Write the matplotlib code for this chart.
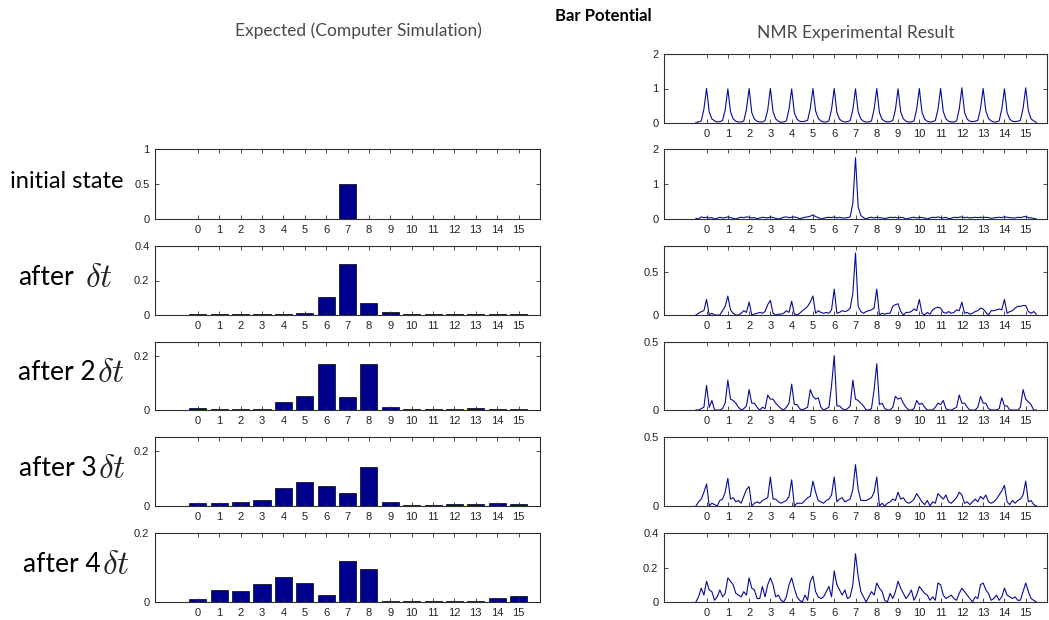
import numpy as np
import matplotlib
matplotlib.use("Agg")
import matplotlib.pyplot as plt
from matplotlib.ticker import FormatStrFormatter

plt.rcParams["mathtext.fontset"] = "cm"

# ---- data ----
sites = list(range(16))

# expected probabilities (computer simulation)
sim_init = [0, 0, 0, 0, 0, 0, 0, 0.5, 0, 0, 0, 0, 0, 0, 0, 0]
sim_dt1 = [0.005, 0.005, 0.005, 0.005, 0.005, 0.012, 0.103, 0.298, 0.072, 0.016,
           0.005, 0.005, 0.005, 0.005, 0.005, 0.005]
sim_dt2 = [0.007, 0.004, 0.004, 0.004, 0.030, 0.053, 0.169, 0.046, 0.169, 0.011,
           0.004, 0.004, 0.004, 0.006, 0.004, 0.004]
sim_dt3 = [0.012, 0.012, 0.016, 0.021, 0.067, 0.087, 0.071, 0.047, 0.143, 0.015,
           0.003, 0.003, 0.006, 0.006, 0.010, 0.007]
sim_dt4 = [0.009, 0.034, 0.031, 0.052, 0.072, 0.054, 0.020, 0.120, 0.095, 0.003,
           0.003, 0.003, 0.003, 0.003, 0.012, 0.017]

# NMR spectra, sampled every 1/8 unit from -0.5 to 15.5 (8 samples per site + end)
freq = np.arange(129) * 0.125 - 0.5

nmr_ref = [
    0.02, 0.03, 0.06, 0.40, 1.00, 0.32, 0.12, 0.06,
    0.03, 0.04, 0.07, 0.38, 0.99, 0.33, 0.12, 0.05,
    0.03, 0.03, 0.06, 0.40, 1.00, 0.30, 0.11, 0.05,
    0.03, 0.03, 0.07, 0.38, 1.00, 0.33, 0.12, 0.05,
    0.02, 0.03, 0.06, 0.40, 0.99, 0.30, 0.11, 0.05,
    0.04, 0.05, 0.08, 0.42, 1.00, 0.35, 0.13, 0.06,
    0.03, 0.03, 0.06, 0.40, 1.00, 0.31, 0.11, 0.05,
    0.03, 0.04, 0.07, 0.39, 0.99, 0.32, 0.12, 0.05,
    0.03, 0.03, 0.06, 0.40, 1.00, 0.30, 0.11, 0.05,
    0.03, 0.04, 0.07, 0.38, 0.99, 0.32, 0.12, 0.05,
    0.03, 0.03, 0.06, 0.40, 1.00, 0.31, 0.11, 0.05,
    0.03, 0.04, 0.07, 0.39, 1.00, 0.33, 0.12, 0.05,
    0.03, 0.03, 0.06, 0.40, 1.02, 0.31, 0.11, 0.05,
    0.04, 0.05, 0.08, 0.42, 1.00, 0.35, 0.13, 0.06,
    0.03, 0.03, 0.06, 0.40, 0.99, 0.30, 0.11, 0.05,
    0.04, 0.05, 0.08, 0.42, 1.02, 0.35, 0.12, 0.06,
    0.02,
]

nmr_init = [
    0.02, 0.00, 0.06, 0.04, 0.05, 0.03, 0.04, 0.00,
    0.02, 0.05, 0.03, 0.04, 0.06, 0.04, 0.02, 0.00,
    0.03, 0.05, 0.04, 0.06, 0.05, 0.03, 0.04, 0.01,
    0.03, 0.05, 0.04, 0.03, 0.06, 0.04, 0.02, 0.00,
    0.02, 0.05, 0.06, 0.04, 0.05, 0.06, 0.04, 0.01,
    0.03, 0.05, 0.06, 0.08, 0.12, 0.07, 0.04, 0.00,
    0.02, 0.04, 0.05, 0.04, 0.06, 0.03, 0.05, 0.03,
    0.03, 0.04, 0.06, 0.45, 1.75, 0.35, 0.10, 0.04,
    0.00, 0.04, 0.05, 0.03, 0.05, 0.04, 0.03, 0.01,
    0.03, 0.05, 0.04, 0.05, 0.03, 0.05, 0.04, 0.00,
    0.02, 0.04, 0.05, 0.03, 0.05, 0.04, 0.03, 0.00,
    0.03, 0.05, 0.04, 0.06, 0.04, 0.03, 0.05, 0.01,
    0.02, 0.05, 0.04, 0.05, 0.06, 0.04, 0.05, 0.03,
    0.04, 0.05, 0.04, 0.05, 0.04, 0.05, 0.04, 0.02,
    0.03, 0.04, 0.05, 0.04, 0.06, 0.05, 0.04, 0.03,
    0.03, 0.05, 0.04, 0.06, 0.07, 0.04, 0.03, 0.02,
    0.00,
]

nmr_dt1 = [
    0.00, 0.02, 0.04, 0.05, 0.18, 0.00, 0.02, 0.00,
    0.00, 0.00, 0.05, 0.10, 0.22, 0.06, 0.02, 0.00,
    0.00, 0.02, 0.05, 0.03, 0.15, 0.00, 0.01, 0.02,
    0.03, 0.02, 0.04, 0.12, 0.17, 0.02, 0.00, 0.01,
    0.01, 0.02, 0.05, 0.03, 0.16, 0.01, 0.00, 0.02,
    0.05, 0.07, 0.10, 0.15, 0.22, 0.02, 0.05, 0.03,
    0.02, 0.03, 0.02, 0.06, 0.30, 0.02, 0.03, 0.05,
    0.04, 0.05, 0.08, 0.25, 0.72, 0.10, 0.04, 0.02,
    0.04, 0.05, 0.06, 0.08, 0.30, 0.00, 0.02, 0.01,
    0.02, 0.02, 0.10, 0.12, 0.13, 0.04, 0.00, 0.03,
    0.03, 0.04, 0.07, 0.05, 0.18, 0.02, 0.00, 0.03,
    0.01, 0.06, 0.08, 0.09, 0.08, 0.03, 0.02, 0.04,
    0.02, 0.03, 0.06, 0.05, 0.15, 0.02, 0.03, 0.01,
    0.02, 0.04, 0.05, 0.08, 0.07, 0.03, 0.00, 0.05,
    0.05, 0.06, 0.07, 0.06, 0.18, 0.02, 0.04, 0.05,
    0.08, 0.10, 0.10, 0.11, 0.11, 0.04, 0.02, 0.04,
    0.01,
]

nmr_dt2 = [
    0.00, 0.00, 0.01, 0.02, 0.18, 0.02, 0.07, 0.00,
    0.00, 0.00, 0.01, 0.05, 0.22, 0.08, 0.07, 0.05,
    0.02, 0.00, 0.01, 0.03, 0.15, 0.05, 0.05, 0.02,
    0.00, 0.02, 0.01, 0.11, 0.08, 0.08, 0.05, 0.03,
    0.01, 0.00, 0.02, 0.05, 0.19, 0.04, 0.04, 0.01,
    0.00, 0.01, 0.02, 0.15, 0.10, 0.08, 0.09, 0.02,
    0.00, 0.01, 0.02, 0.18, 0.40, 0.03, 0.03, 0.01,
    0.00, 0.01, 0.03, 0.22, 0.08, 0.07, 0.05, 0.03,
    0.00, 0.00, 0.01, 0.15, 0.34, 0.04, 0.05, 0.01,
    0.00, 0.00, 0.02, 0.10, 0.08, 0.09, 0.05, 0.02,
    0.00, 0.00, 0.01, 0.07, 0.04, 0.05, 0.02, 0.00,
    0.00, 0.00, 0.02, 0.05, 0.04, 0.07, 0.01, 0.00,
    0.00, 0.01, 0.02, 0.11, 0.05, 0.05, 0.02, 0.00,
    0.00, 0.00, 0.02, 0.10, 0.05, 0.05, 0.01, 0.00,
    0.00, 0.00, 0.01, 0.09, 0.03, 0.03, 0.00, 0.00,
    0.00, 0.00, 0.02, 0.15, 0.08, 0.06, 0.04, 0.00,
    0.00,
]

nmr_dt3 = [
    0.00, 0.03, 0.05, 0.10, 0.16, 0.00, 0.02, 0.01,
    0.00, 0.04, 0.05, 0.10, 0.20, 0.05, 0.06, 0.03,
    0.04, 0.02, 0.07, 0.12, 0.14, 0.00, 0.02, 0.03,
    0.02, 0.04, 0.05, 0.06, 0.21, 0.05, 0.05, 0.03,
    0.02, 0.03, 0.04, 0.07, 0.19, 0.00, 0.02, 0.02,
    0.02, 0.04, 0.06, 0.07, 0.18, 0.10, 0.04, 0.03,
    0.02, 0.04, 0.05, 0.08, 0.21, 0.03, 0.05, 0.06,
    0.03, 0.04, 0.05, 0.12, 0.30, 0.12, 0.04, 0.04,
    0.04, 0.05, 0.06, 0.10, 0.21, 0.00, 0.02, 0.00,
    0.02, 0.03, 0.05, 0.04, 0.10, 0.05, 0.06, 0.03,
    0.02, 0.03, 0.05, 0.09, 0.06, 0.03, 0.01, 0.04,
    0.00, 0.03, 0.02, 0.09, 0.07, 0.05, 0.08, 0.03,
    0.02, 0.04, 0.06, 0.10, 0.08, 0.02, 0.03, 0.01,
    0.03, 0.05, 0.03, 0.07, 0.05, 0.08, 0.03, 0.02,
    0.03, 0.05, 0.08, 0.11, 0.15, 0.03, 0.01, 0.04,
    0.02, 0.04, 0.05, 0.08, 0.18, 0.03, 0.04, 0.01,
    0.00,
]

nmr_dt4 = [
    0.00, 0.03, 0.08, 0.04, 0.12, 0.07, 0.06, 0.01,
    0.03, 0.07, 0.03, 0.05, 0.14, 0.12, 0.10, 0.05,
    0.04, 0.03, 0.06, 0.04, 0.14, 0.08, 0.07, 0.02,
    0.02, 0.09, 0.03, 0.10, 0.14, 0.10, 0.03, 0.04,
    0.01, 0.00, 0.03, 0.10, 0.14, 0.08, 0.03, 0.01,
    0.00, 0.04, 0.01, 0.12, 0.15, 0.06, 0.03, 0.02,
    0.03, 0.06, 0.09, 0.03, 0.18, 0.10, 0.07, 0.04,
    0.07, 0.02, 0.03, 0.10, 0.28, 0.15, 0.06, 0.03,
    0.00, 0.03, 0.06, 0.04, 0.11, 0.08, 0.06, 0.01,
    0.00, 0.05, 0.02, 0.06, 0.12, 0.08, 0.05, 0.02,
    0.04, 0.07, 0.01, 0.04, 0.09, 0.07, 0.05, 0.04,
    0.01, 0.03, 0.01, 0.11, 0.10, 0.04, 0.02, 0.03,
    0.04, 0.02, 0.01, 0.05, 0.08, 0.06, 0.04, 0.02,
    0.00, 0.03, 0.02, 0.10, 0.11, 0.07, 0.05, 0.01,
    0.02, 0.04, 0.01, 0.03, 0.08, 0.04, 0.03, 0.02,
    0.03, 0.01, 0.01, 0.06, 0.11, 0.06, 0.02, 0.01,
    0.00,
]

sim_series = [sim_init, sim_dt1, sim_dt2, sim_dt3, sim_dt4]
sim_ylims = [1, 0.4, 0.25, 0.25, 0.2]
sim_yticks = [[0, 0.5, 1], [0, 0.2, 0.4], [0, 0.2], [0, 0.2], [0, 0.2]]

nmr_series = [nmr_ref, nmr_init, nmr_dt1, nmr_dt2, nmr_dt3, nmr_dt4]
nmr_ylims = [2, 2, 0.8, 0.5, 0.5, 0.4]
nmr_yticks = [[0, 1, 2], [0, 1, 2], [0, 0.5], [0, 0.5], [0, 0.5], [0, 0.2, 0.4]]

row_labels = ["initial state", "after", "after 2", "after 3", "after 4"]

# ---- layout (pixels of a 1049x620 canvas) ----
W, H = 1049, 620
rows_left = [(149, 219), (246, 315), (342, 410), (437, 506), (533, 602)]
rows_right = [(54, 123)] + rows_left
BAR_COLOR = "#00008f"
LINE_COLOR = "#0a0a9a"
AX_COLOR = "#303030"


def rect(x0, x1, top, bottom):
    return [x0 / W, 1 - bottom / H, (x1 - x0) / W, (bottom - top) / H]


def style_axes(ax, ymax, yticks):
    ax.set_xlim(-2, 16)
    ax.set_ylim(0, ymax)
    ax.set_xticks(sites)
    ax.set_yticks(yticks)
    ax.yaxis.set_major_formatter(FormatStrFormatter("%g"))
    ax.tick_params(direction="in", length=3, width=0.6, top=True, right=True,
                   labelsize=8, pad=4, color=AX_COLOR, labelcolor="#222222")
    for lab in ax.get_xticklabels() + ax.get_yticklabels():
        lab.set_fontfamily("Liberation Sans")
    for sp in ax.spines.values():
        sp.set_color(AX_COLOR)
        sp.set_linewidth(0.8)


fig = plt.figure(figsize=(W / 100, H / 100), dpi=100)

# left column: simulated bar charts
left_axes = []
for (top, bottom), vals, ymax, yt in zip(rows_left, sim_series, sim_ylims, sim_yticks):
    ax = fig.add_axes(rect(155, 540, top, bottom))
    ax.bar(sites, vals, width=0.8, color=BAR_COLOR, edgecolor="black", linewidth=0.5)
    style_axes(ax, ymax, yt)
    left_axes.append(ax)

# right column: NMR spectra
for (top, bottom), vals, ymax, yt in zip(rows_right, nmr_series, nmr_ylims, nmr_yticks):
    ax = fig.add_axes(rect(664, 1047, top, bottom))
    ax.plot(freq, vals, color=LINE_COLOR, linewidth=0.8)
    style_axes(ax, ymax, yt)

# titles
fig.text(603 / W, 1 - 16 / H, "Bar Potential", ha="center", va="center",
         fontsize=12, fontweight="bold", family="Lato", color="black")
fig.text(358 / W, 1 - 31 / H, "Expected (Computer Simulation)", ha="center",
         va="center", fontsize=12.5, family="Lato", color="#4a4a4a")
fig.text(856 / W, 1 - 33 / H, "NMR Experimental Result", ha="center",
         va="center", fontsize=12.5, family="Lato", color="#4a4a4a")

# row labels
label_x = [10, 18, 18, 19, 23]
label_size = [17, 19, 19, 19, 19]
for i, (ax, text) in enumerate(zip(left_axes, row_labels)):
    top, bottom = rows_left[i]
    yc = 1 - ((top + bottom) / 2 - 3) / H
    t = fig.text(label_x[i] / W, yc, text, ha="left", va="center",
                 fontsize=label_size[i], family="Lato", color="black")
    if i > 0:
        gap = 8 if text == "after" else 1
        ax.annotate(r"$\delta t$", xy=(1, 0.5), xycoords=t,
                    xytext=(gap, 0), textcoords="offset points",
                    ha="left", va="center", fontsize=24, color="#222222",
                    annotation_clip=False)

fig.savefig("out.png", dpi=100)
